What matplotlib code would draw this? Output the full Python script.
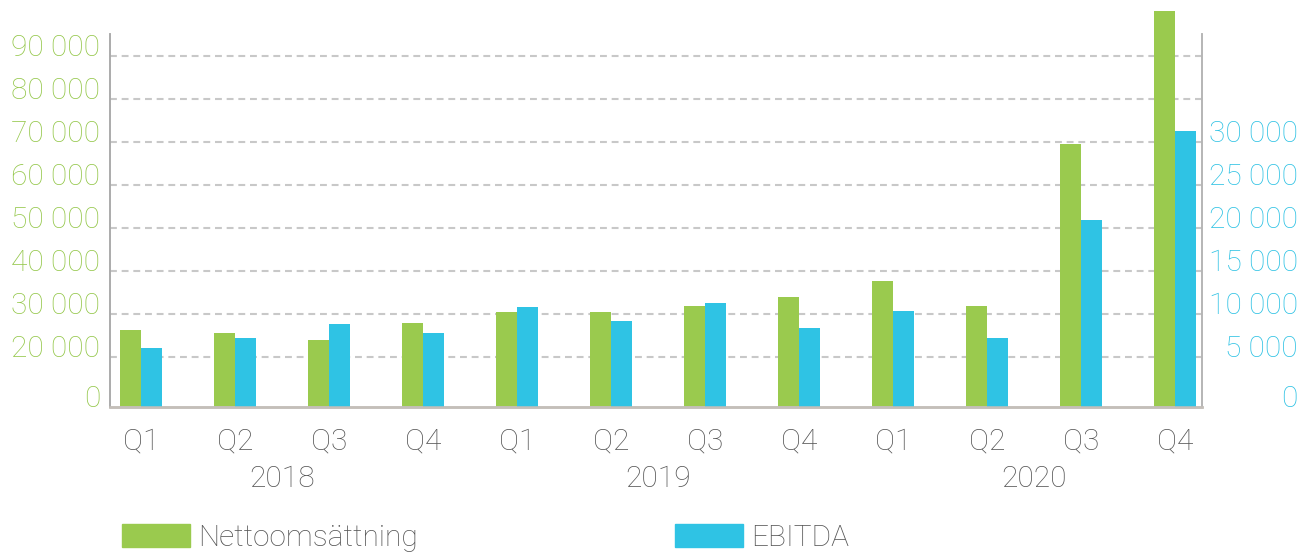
import matplotlib
matplotlib.use("Agg")
import matplotlib.pyplot as plt
from matplotlib.patches import Patch
import numpy as np

plt.rcParams['font.family'] = ['Roboto', 'DejaVu Sans']
plt.rcParams['font.weight'] = 'light'
plt.rcParams['font.size'] = 21.5

# Data
years = ["2018", "2019", "2020"]
quarters = ["Q1", "Q2", "Q3", "Q4"] * 3
nettoomsattning = [26300, 25600, 23900, 27900, 30500, 30500, 31900, 34000, 37700, 31900, 69500, 100500]
ebitda = [6050, 7200, 8850, 7800, 10800, 9200, 11300, 8350, 10350, 7200, 20900, 31300]

left_ticks = [20000, 30000, 40000, 50000, 60000, 70000, 80000, 90000]
right_ticks = [5000, 10000, 15000, 20000, 25000, 30000]

green = "#9aca4e"
blue = "#2fc3e4"
grey_txt = "#555555"

# axis floors/tops as drawn in the original
left_lim = (8372, 95116)
right_lim = (left_lim[0] / 2 - 5000, left_lim[1] / 2 - 5000)

def fmt(v):
    return f"{v:,}".replace(",", " ")

fig = plt.figure(figsize=(13.04, 5.54), dpi=100)
ax = fig.add_axes([110 / 1304, 147 / 554, 1092 / 1304, 373 / 554])
ax2 = ax.twinx()

x = np.arange(len(quarters))
w = 0.2234

for g in left_ticks:
    ax.axhline(g, color="#c8c8c8", lw=1.5, ls=(0, (3.3, 2.3)), zorder=0)

ax.bar(x - w / 2, np.array(nettoomsattning) - left_lim[0], w, bottom=left_lim[0],
       color=green, clip_on=False, zorder=2)
ax2.bar(x + w / 2, np.array(ebitda) - right_lim[0], w, bottom=right_lim[0],
        color=blue, clip_on=False, zorder=2)

ax.set_xlim(-0.33, 11.29)
ax.set_ylim(*left_lim)
ax2.set_ylim(*right_lim)

ax.set_yticks([left_lim[0]] + left_ticks, ["0"] + [fmt(v) for v in left_ticks])
ax2.set_yticks([right_lim[0]] + right_ticks, ["0"] + [fmt(v) for v in right_ticks])
ax.tick_params(axis="y", length=0, pad=7, labelcolor="#94c74a")
ax2.tick_params(axis="y", length=0, pad=69, labelcolor="#2ec2e4")
for lbl in ax.get_yticklabels():
    lbl.set_va("baseline")
for lbl in ax2.get_yticklabels():
    lbl.set_va("baseline")
    lbl.set_ha("right")

ax.set_xticks(x, quarters)
ax.tick_params(axis="x", length=0, pad=15, labelcolor=grey_txt)
for i, yr in enumerate(years):
    ax.text(4 * i + 1.5, -0.192, yr, transform=ax.get_xaxis_transform(),
            ha="center", va="center", color=grey_txt)

for a in (ax, ax2):
    a.spines["top"].set_visible(False)
    a.spines["left"].set_color("#ababab")
    a.spines["right"].set_color("#b5b5b5")
    a.spines["bottom"].set_color("#c4bfb9")
    a.spines["left"].set_linewidth(1.2)
    a.spines["right"].set_linewidth(1.2)
    a.spines["bottom"].set_linewidth(1.8)

handles = [Patch(color=green, label="Nettoomsättning"), Patch(color=blue, label="EBITDA")]
fig.legend(handles=handles, loc="lower left", bbox_to_anchor=(122 / 1304, 2 / 554),
           ncol=2, frameon=False, borderpad=0, borderaxespad=0,
           handlelength=2.28, handleheight=0.84, handletextpad=0.28,
           columnspacing=8.6, labelcolor=grey_txt)

fig.savefig("out.png", dpi=100)
